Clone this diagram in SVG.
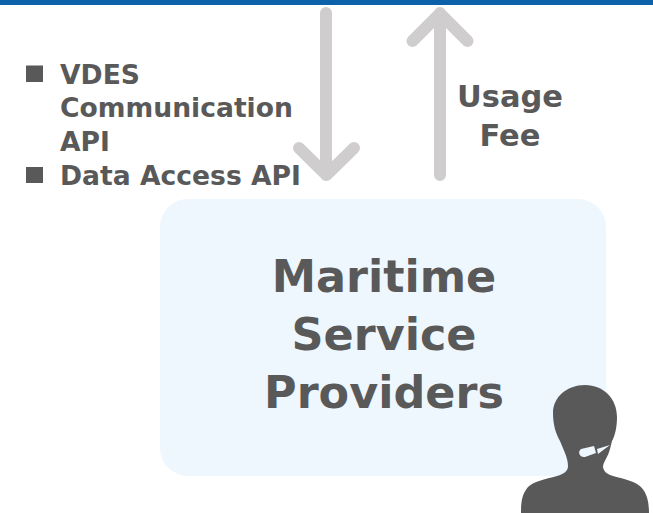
<svg xmlns="http://www.w3.org/2000/svg" width="653" height="513" viewBox="0 0 653 513">
<style>
text{font-family:"DejaVu Sans",Verdana,sans-serif;font-weight:700;fill:#595959}
.t{font-size:26.6px}
.b{font-size:44.5px;text-anchor:middle}
.u{font-size:30.5px;text-anchor:middle}
.s{fill:#595959}
.a{fill:none;stroke:#cfcdcd;stroke-width:12px;stroke-linecap:round;stroke-linejoin:round}
</style>
<rect id="top-bar" x="0" y="0" width="653" height="5" fill="#0b62a8"/>
<g id="connectors">
<path class="a" d="M326 13V175M299 148L326.500 175L354 148"/>
<path class="a" d="M440 175V13M412.500 41L440 13.500L467.500 41"/>
</g>
<g id="api-list">
<rect class="s" x="26" y="65.500" width="17" height="16.500"/>
<text class="t" x="60" y="84">VDES</text>
<text class="t" x="60" y="117">Communication</text>
<text class="t" x="60" y="151">API</text>
<rect class="s" x="26" y="167" width="17" height="16"/>
<text class="t" x="60" y="185">Data Access API</text>
</g>
<g id="usage-fee">
<text class="u" x="510" y="107">Usage</text>
<text class="u" x="510" y="146">Fee</text>
</g>
<g id="maritime-service-providers">
<rect x="160" y="199" width="446" height="277" rx="28" fill="#eef6fe"/>
<text class="b" x="384" y="292">Maritime</text>
<text class="b" x="384" y="350">Service</text>
<text class="b" x="384" y="408">Providers</text>
</g>
<g id="person">
<path class="s" d="M585 385C604 385 617 399 617 417C617 427 615 436 612 441L610 449C608 457 603 462 603 467C604 472 607 474 613 476C625 479 636 482 641 487C647 493 649 502 649 513H521C521 502 522 494 528 487C533 482 545 479 557 476C564 474 568 471 568 466C568 458 564 451 560 441C556 434 553 425 553 413C553 397 567 385 585 385Z"/>
<path d="M581 449L594 446L596 453L585 457C580 458 577 452 581 449ZM597 449L610 445L598 454Z" fill="#eef6fe"/>
</g>
</svg>
